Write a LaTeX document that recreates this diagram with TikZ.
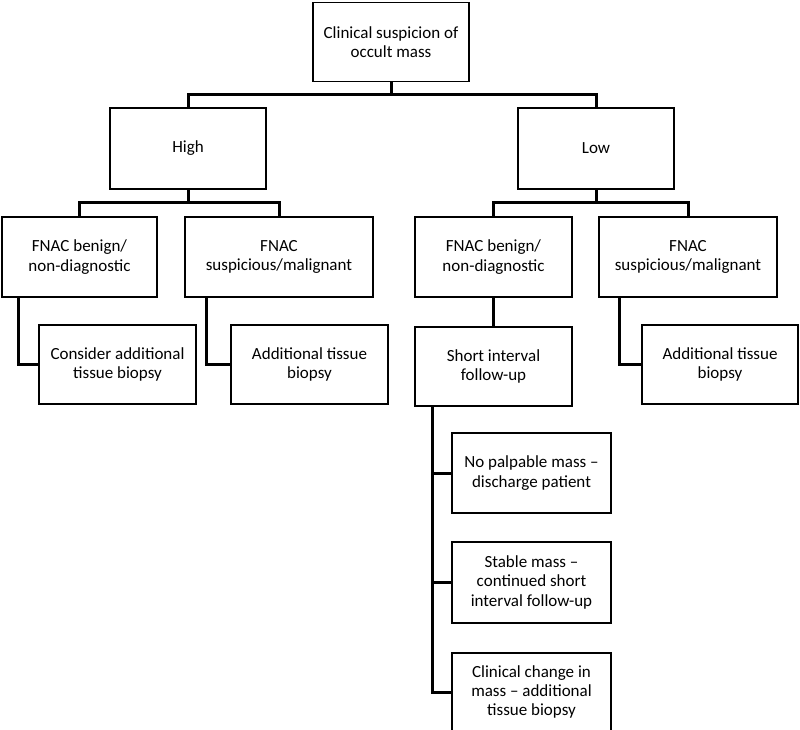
\documentclass[tikz,border=0pt]{standalone}
\usepackage{fontspec}
\setmainfont{Carlito}
\usepackage{tikz}
\usetikzlibrary{positioning}
\tikzset{
  box/.style={rectangle, draw=black, line width=1.8pt, fill=white, minimum width=157pt, minimum height=80pt, align=center, inner sep=2pt, font=\fontsize{17}{19.3}\selectfont},
  link/.style={line width=3pt},
}

\begin{document}
\begin{tikzpicture}[x=1pt, y=-1pt]
\useasboundingbox (0,0) rectangle (800,730);
\node[box, minimum width=156pt, minimum height=79pt] (susp) at (391,42) {Clinical suspicion of\\occult mass};
\node[box, minimum width=156pt, minimum height=81pt] (high) at (188,148.5) {High};
\node[box, minimum width=156pt, minimum height=81pt] (low) at (596,148.5) {Low};
\node[box, minimum width=155pt] (benignH) at (79.5,257) {FNAC benign/\\non-diagnostic};
\node[box, minimum width=188pt] (malignH) at (279,257) {FNAC\\suspicious/malignant};
\node[box] (benignL) at (493.5,257) {FNAC benign/\\non-diagnostic};
\node[box, minimum width=178pt] (malignL) at (688,257) {FNAC\\suspicious/malignant};
\node[box, minimum height=79pt] (considerH) at (117.5,364.5) {Consider additional\\tissue biopsy};
\node[box, minimum height=79pt] (biopsyH) at (309.5,364.5) {Additional tissue\\biopsy};
\node[box, minimum height=79pt, below=28pt of benignL] (followup) {Short interval\\follow-up};
\node[box, minimum width=156pt, minimum height=79pt] (biopsyL) at (720,364.5) {Additional tissue\\biopsy};
\node[box, minimum width=159pt] (discharge) at (531.5,473) {No palpable mass --\\discharge patient};
\node[box, minimum width=159pt, minimum height=81pt, below=27pt of discharge] (stable) {Stable mass --\\continued short\\interval follow-up};
\node[box, minimum width=159pt, minimum height=79pt, below=28pt of stable] (change) {Clinical change in\\mass -- additional\\tissue biopsy};
% tree connectors
\draw[link] (susp.south) -- ++(0,14);
\draw[link] (high.north) -- ++(0,-13) -| (low.north);
\draw[link] (high.south) -- ++(0,14);
\draw[link] (benignH.north) -- ++(0,-14) -| (malignH.north);
\draw[link] (low.south) -- ++(0,14);
\draw[link] (benignL.north) -- ++(0,-14) -| (malignL.north);
\draw[link] ([xshift=17pt]benignH.south west) |- (considerH.west);
\draw[link] ([xshift=22pt]malignH.south west) |- (biopsyH.west);
\draw[link] (benignL) -- (followup);
\draw[link] ([xshift=21pt]malignL.south west) |- (biopsyL.west);
\foreach \n in {discharge,stable,change}
  \draw[link] ([xshift=18pt]followup.south west) |- (\n.west);
\end{tikzpicture}
\end{document}
